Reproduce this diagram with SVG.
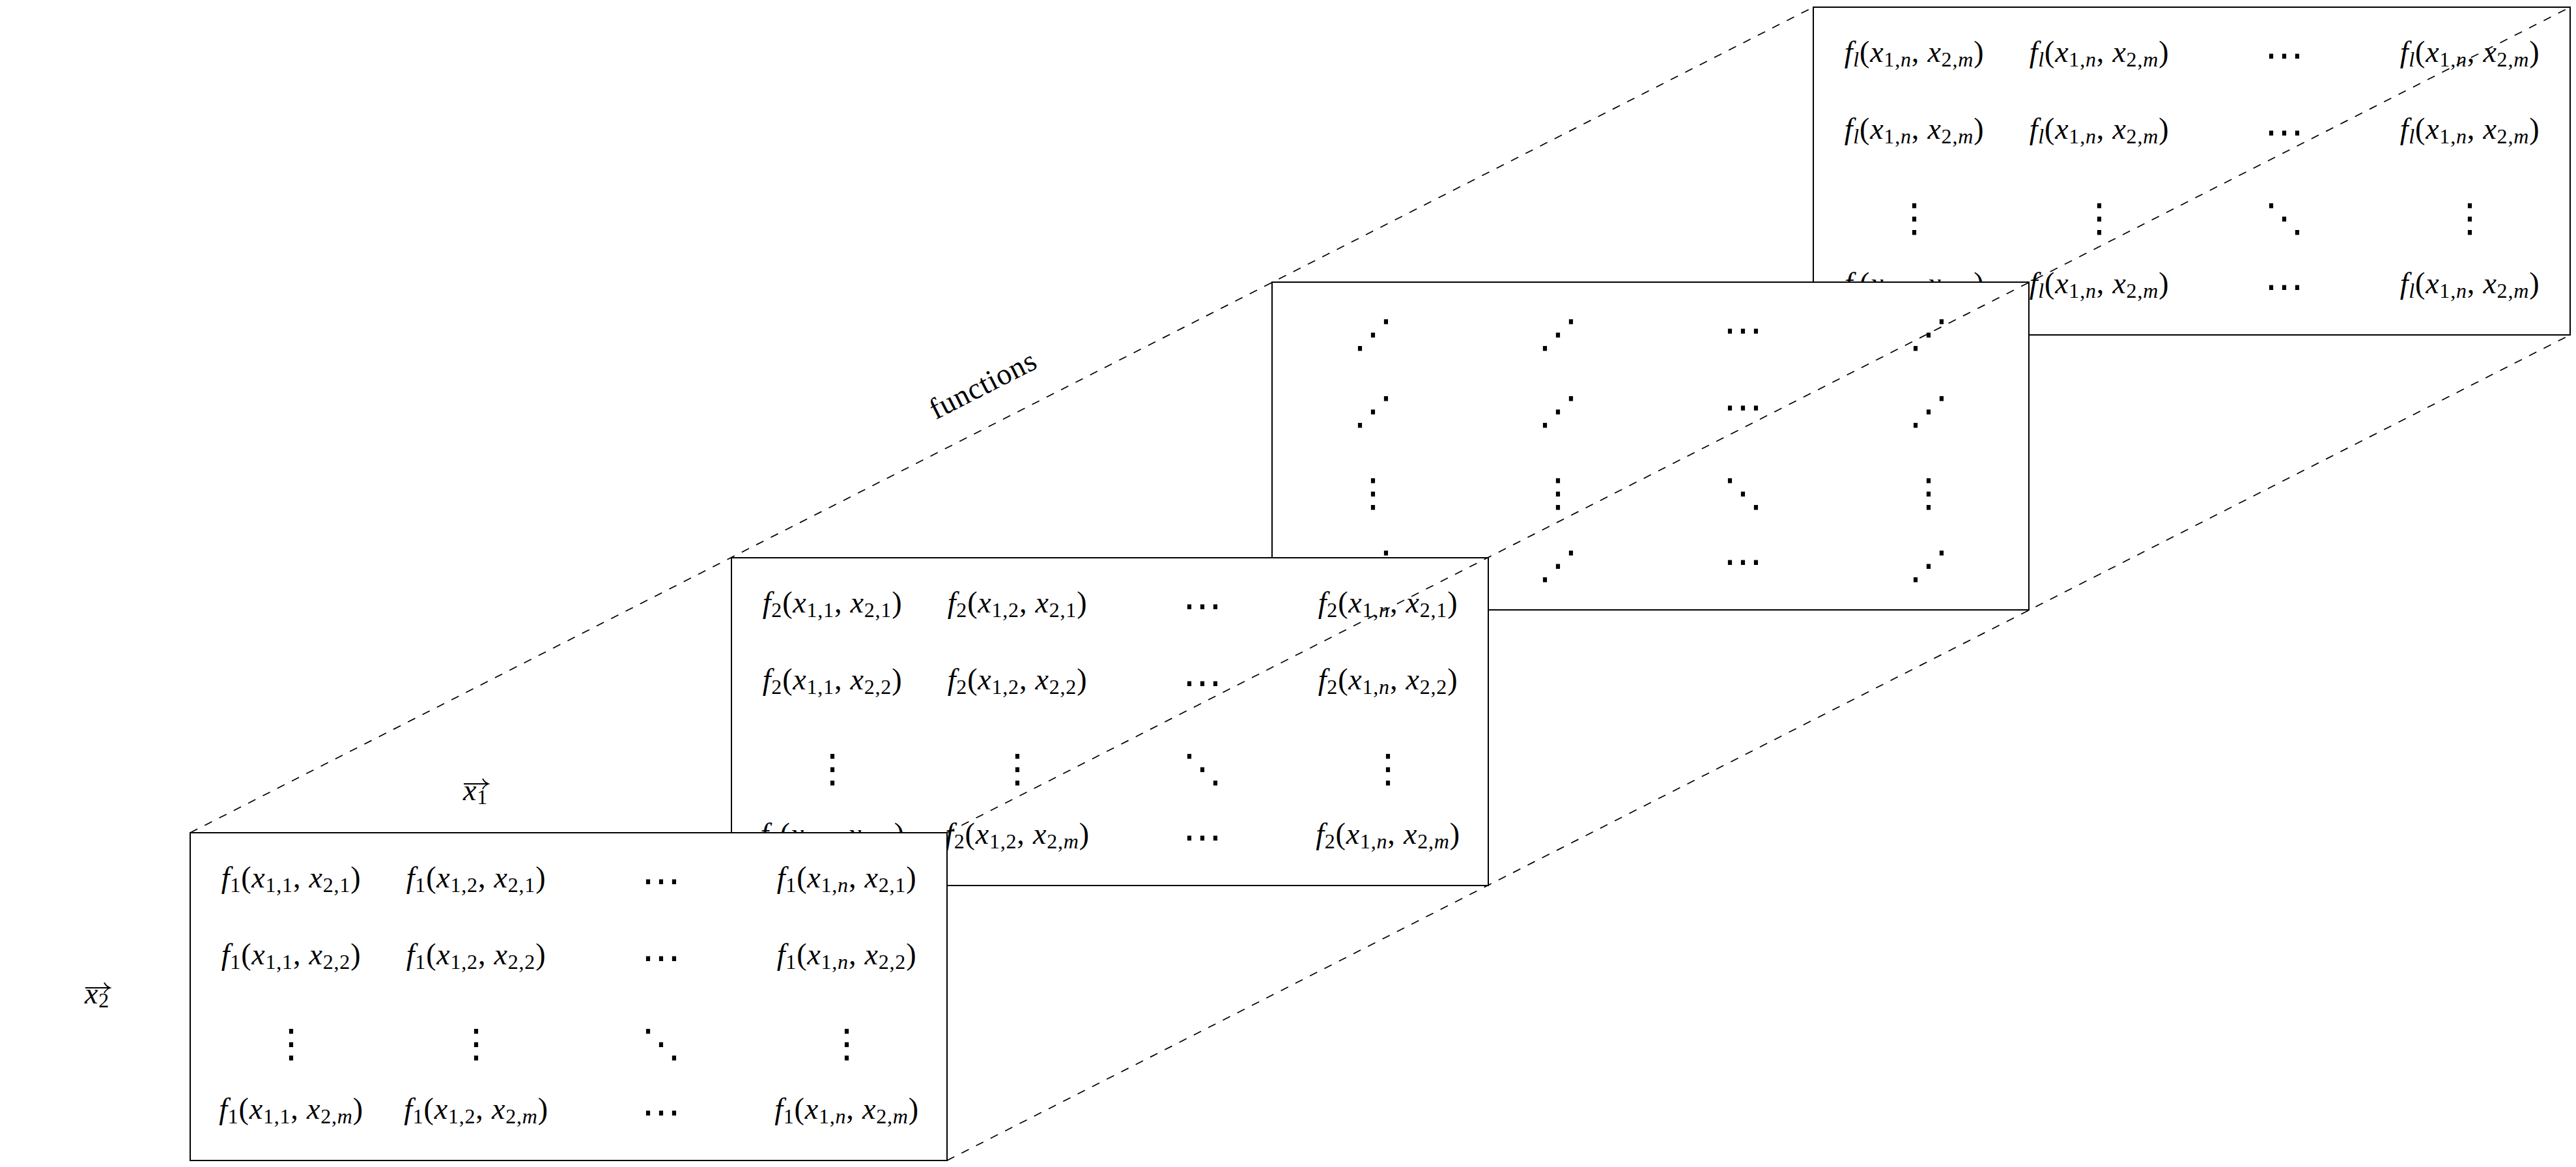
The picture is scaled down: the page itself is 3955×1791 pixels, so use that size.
<svg xmlns="http://www.w3.org/2000/svg" width="3955" height="1791" viewBox="0 0 3955 1791">
<style>
.box{fill:#fff;stroke:#000;stroke-width:2}
.t{font-family:"Liberation Serif",serif;font-size:46px;text-anchor:middle;fill:#000;letter-spacing:0.8px}
.i{font-style:italic}
.s{font-size:32px}
.d{font-family:"DejaVu Sans",sans-serif;font-size:60px;text-anchor:middle;fill:#000}
.dash{fill:none;stroke:#000;stroke-width:1.7;stroke-dasharray:12.5 12.5}
.arr{fill:none;stroke:#000;stroke-width:1.8}
</style>
<rect width="3955" height="1791" fill="#fff"/>

<g id="layer-fl" transform="translate(2784,11)">
<rect class="box" width="1162" height="503"/>
<text class="t" x="155" y="84"><tspan class="i">f</tspan><tspan class="s i" dy="7">l</tspan><tspan dy="-7">(</tspan><tspan class="i">x</tspan><tspan class="s" dy="7">1,<tspan class="i">n</tspan></tspan><tspan dy="-7">, </tspan><tspan class="i">x</tspan><tspan class="s" dy="7">2,<tspan class="i">m</tspan></tspan><tspan dy="-7">)</tspan></text>
<text class="t" x="439" y="84"><tspan class="i">f</tspan><tspan class="s i" dy="7">l</tspan><tspan dy="-7">(</tspan><tspan class="i">x</tspan><tspan class="s" dy="7">1,<tspan class="i">n</tspan></tspan><tspan dy="-7">, </tspan><tspan class="i">x</tspan><tspan class="s" dy="7">2,<tspan class="i">m</tspan></tspan><tspan dy="-7">)</tspan></text>
<text class="d" x="723" y="94">⋯</text>
<text class="t" x="1008" y="84"><tspan class="i">f</tspan><tspan class="s i" dy="7">l</tspan><tspan dy="-7">(</tspan><tspan class="i">x</tspan><tspan class="s" dy="7">1,<tspan class="i">n</tspan></tspan><tspan dy="-7">, </tspan><tspan class="i">x</tspan><tspan class="s" dy="7">2,<tspan class="i">m</tspan></tspan><tspan dy="-7">)</tspan></text>
<text class="t" x="155" y="202"><tspan class="i">f</tspan><tspan class="s i" dy="7">l</tspan><tspan dy="-7">(</tspan><tspan class="i">x</tspan><tspan class="s" dy="7">1,<tspan class="i">n</tspan></tspan><tspan dy="-7">, </tspan><tspan class="i">x</tspan><tspan class="s" dy="7">2,<tspan class="i">m</tspan></tspan><tspan dy="-7">)</tspan></text>
<text class="t" x="439" y="202"><tspan class="i">f</tspan><tspan class="s i" dy="7">l</tspan><tspan dy="-7">(</tspan><tspan class="i">x</tspan><tspan class="s" dy="7">1,<tspan class="i">n</tspan></tspan><tspan dy="-7">, </tspan><tspan class="i">x</tspan><tspan class="s" dy="7">2,<tspan class="i">m</tspan></tspan><tspan dy="-7">)</tspan></text>
<text class="d" x="723" y="212">⋯</text>
<text class="t" x="1008" y="202"><tspan class="i">f</tspan><tspan class="s i" dy="7">l</tspan><tspan dy="-7">(</tspan><tspan class="i">x</tspan><tspan class="s" dy="7">1,<tspan class="i">n</tspan></tspan><tspan dy="-7">, </tspan><tspan class="i">x</tspan><tspan class="s" dy="7">2,<tspan class="i">m</tspan></tspan><tspan dy="-7">)</tspan></text>
<text class="d" x="155" y="344">⋮</text>
<text class="d" x="439" y="344">⋮</text>
<text class="d" x="723" y="344">⋱</text>
<text class="d" x="1008" y="344">⋮</text>
<text class="t" x="155" y="439"><tspan class="i">f</tspan><tspan class="s i" dy="7">l</tspan><tspan dy="-7">(</tspan><tspan class="i">x</tspan><tspan class="s" dy="7">1,<tspan class="i">n</tspan></tspan><tspan dy="-7">, </tspan><tspan class="i">x</tspan><tspan class="s" dy="7">2,<tspan class="i">m</tspan></tspan><tspan dy="-7">)</tspan></text>
<text class="t" x="439" y="439"><tspan class="i">f</tspan><tspan class="s i" dy="7">l</tspan><tspan dy="-7">(</tspan><tspan class="i">x</tspan><tspan class="s" dy="7">1,<tspan class="i">n</tspan></tspan><tspan dy="-7">, </tspan><tspan class="i">x</tspan><tspan class="s" dy="7">2,<tspan class="i">m</tspan></tspan><tspan dy="-7">)</tspan></text>
<text class="d" x="723" y="449">⋯</text>
<text class="t" x="1008" y="439"><tspan class="i">f</tspan><tspan class="s i" dy="7">l</tspan><tspan dy="-7">(</tspan><tspan class="i">x</tspan><tspan class="s" dy="7">1,<tspan class="i">n</tspan></tspan><tspan dy="-7">, </tspan><tspan class="i">x</tspan><tspan class="s" dy="7">2,<tspan class="i">m</tspan></tspan><tspan dy="-7">)</tspan></text>
</g>

<g id="layer-dots" transform="translate(1953,433)">
<rect class="box" width="1162" height="503"/>
<text class="d" x="155" y="100">⋰</text>
<text class="d" x="439" y="100">⋰</text>
<text class="d" x="723" y="94">⋯</text>
<text class="d" x="1008" y="100">⋰</text>
<text class="d" x="155" y="218">⋰</text>
<text class="d" x="439" y="218">⋰</text>
<text class="d" x="723" y="212">⋯</text>
<text class="d" x="1008" y="218">⋰</text>
<text class="d" x="155" y="344">⋮</text>
<text class="d" x="439" y="344">⋮</text>
<text class="d" x="723" y="344">⋱</text>
<text class="d" x="1008" y="344">⋮</text>
<text class="d" x="155" y="455">⋰</text>
<text class="d" x="439" y="455">⋰</text>
<text class="d" x="723" y="449">⋯</text>
<text class="d" x="1008" y="455">⋰</text>
</g>

<g id="layer-f2" transform="translate(1123,856)">
<rect class="box" width="1162" height="503"/>
<text class="t" x="155" y="84"><tspan class="i">f</tspan><tspan class="s" dy="7">2</tspan><tspan dy="-7">(</tspan><tspan class="i">x</tspan><tspan class="s" dy="7">1,1</tspan><tspan dy="-7">, </tspan><tspan class="i">x</tspan><tspan class="s" dy="7">2,1</tspan><tspan dy="-7">)</tspan></text>
<text class="t" x="439" y="84"><tspan class="i">f</tspan><tspan class="s" dy="7">2</tspan><tspan dy="-7">(</tspan><tspan class="i">x</tspan><tspan class="s" dy="7">1,2</tspan><tspan dy="-7">, </tspan><tspan class="i">x</tspan><tspan class="s" dy="7">2,1</tspan><tspan dy="-7">)</tspan></text>
<text class="d" x="723" y="94">⋯</text>
<text class="t" x="1008" y="84"><tspan class="i">f</tspan><tspan class="s" dy="7">2</tspan><tspan dy="-7">(</tspan><tspan class="i">x</tspan><tspan class="s" dy="7">1,<tspan class="i">n</tspan></tspan><tspan dy="-7">, </tspan><tspan class="i">x</tspan><tspan class="s" dy="7">2,1</tspan><tspan dy="-7">)</tspan></text>
<text class="t" x="155" y="202"><tspan class="i">f</tspan><tspan class="s" dy="7">2</tspan><tspan dy="-7">(</tspan><tspan class="i">x</tspan><tspan class="s" dy="7">1,1</tspan><tspan dy="-7">, </tspan><tspan class="i">x</tspan><tspan class="s" dy="7">2,2</tspan><tspan dy="-7">)</tspan></text>
<text class="t" x="439" y="202"><tspan class="i">f</tspan><tspan class="s" dy="7">2</tspan><tspan dy="-7">(</tspan><tspan class="i">x</tspan><tspan class="s" dy="7">1,2</tspan><tspan dy="-7">, </tspan><tspan class="i">x</tspan><tspan class="s" dy="7">2,2</tspan><tspan dy="-7">)</tspan></text>
<text class="d" x="723" y="212">⋯</text>
<text class="t" x="1008" y="202"><tspan class="i">f</tspan><tspan class="s" dy="7">2</tspan><tspan dy="-7">(</tspan><tspan class="i">x</tspan><tspan class="s" dy="7">1,<tspan class="i">n</tspan></tspan><tspan dy="-7">, </tspan><tspan class="i">x</tspan><tspan class="s" dy="7">2,2</tspan><tspan dy="-7">)</tspan></text>
<text class="d" x="155" y="344">⋮</text>
<text class="d" x="439" y="344">⋮</text>
<text class="d" x="723" y="344">⋱</text>
<text class="d" x="1008" y="344">⋮</text>
<text class="t" x="155" y="439"><tspan class="i">f</tspan><tspan class="s" dy="7">2</tspan><tspan dy="-7">(</tspan><tspan class="i">x</tspan><tspan class="s" dy="7">1,1</tspan><tspan dy="-7">, </tspan><tspan class="i">x</tspan><tspan class="s" dy="7">2,<tspan class="i">m</tspan></tspan><tspan dy="-7">)</tspan></text>
<text class="t" x="439" y="439"><tspan class="i">f</tspan><tspan class="s" dy="7">2</tspan><tspan dy="-7">(</tspan><tspan class="i">x</tspan><tspan class="s" dy="7">1,2</tspan><tspan dy="-7">, </tspan><tspan class="i">x</tspan><tspan class="s" dy="7">2,<tspan class="i">m</tspan></tspan><tspan dy="-7">)</tspan></text>
<text class="d" x="723" y="449">⋯</text>
<text class="t" x="1008" y="439"><tspan class="i">f</tspan><tspan class="s" dy="7">2</tspan><tspan dy="-7">(</tspan><tspan class="i">x</tspan><tspan class="s" dy="7">1,<tspan class="i">n</tspan></tspan><tspan dy="-7">, </tspan><tspan class="i">x</tspan><tspan class="s" dy="7">2,<tspan class="i">m</tspan></tspan><tspan dy="-7">)</tspan></text>
</g>

<g id="layer-f1" transform="translate(292,1278)">
<rect class="box" width="1162" height="503"/>
<text class="t" x="155" y="84"><tspan class="i">f</tspan><tspan class="s" dy="7">1</tspan><tspan dy="-7">(</tspan><tspan class="i">x</tspan><tspan class="s" dy="7">1,1</tspan><tspan dy="-7">, </tspan><tspan class="i">x</tspan><tspan class="s" dy="7">2,1</tspan><tspan dy="-7">)</tspan></text>
<text class="t" x="439" y="84"><tspan class="i">f</tspan><tspan class="s" dy="7">1</tspan><tspan dy="-7">(</tspan><tspan class="i">x</tspan><tspan class="s" dy="7">1,2</tspan><tspan dy="-7">, </tspan><tspan class="i">x</tspan><tspan class="s" dy="7">2,1</tspan><tspan dy="-7">)</tspan></text>
<text class="d" x="723" y="94">⋯</text>
<text class="t" x="1008" y="84"><tspan class="i">f</tspan><tspan class="s" dy="7">1</tspan><tspan dy="-7">(</tspan><tspan class="i">x</tspan><tspan class="s" dy="7">1,<tspan class="i">n</tspan></tspan><tspan dy="-7">, </tspan><tspan class="i">x</tspan><tspan class="s" dy="7">2,1</tspan><tspan dy="-7">)</tspan></text>
<text class="t" x="155" y="202"><tspan class="i">f</tspan><tspan class="s" dy="7">1</tspan><tspan dy="-7">(</tspan><tspan class="i">x</tspan><tspan class="s" dy="7">1,1</tspan><tspan dy="-7">, </tspan><tspan class="i">x</tspan><tspan class="s" dy="7">2,2</tspan><tspan dy="-7">)</tspan></text>
<text class="t" x="439" y="202"><tspan class="i">f</tspan><tspan class="s" dy="7">1</tspan><tspan dy="-7">(</tspan><tspan class="i">x</tspan><tspan class="s" dy="7">1,2</tspan><tspan dy="-7">, </tspan><tspan class="i">x</tspan><tspan class="s" dy="7">2,2</tspan><tspan dy="-7">)</tspan></text>
<text class="d" x="723" y="212">⋯</text>
<text class="t" x="1008" y="202"><tspan class="i">f</tspan><tspan class="s" dy="7">1</tspan><tspan dy="-7">(</tspan><tspan class="i">x</tspan><tspan class="s" dy="7">1,<tspan class="i">n</tspan></tspan><tspan dy="-7">, </tspan><tspan class="i">x</tspan><tspan class="s" dy="7">2,2</tspan><tspan dy="-7">)</tspan></text>
<text class="d" x="155" y="344">⋮</text>
<text class="d" x="439" y="344">⋮</text>
<text class="d" x="723" y="344">⋱</text>
<text class="d" x="1008" y="344">⋮</text>
<text class="t" x="155" y="439"><tspan class="i">f</tspan><tspan class="s" dy="7">1</tspan><tspan dy="-7">(</tspan><tspan class="i">x</tspan><tspan class="s" dy="7">1,1</tspan><tspan dy="-7">, </tspan><tspan class="i">x</tspan><tspan class="s" dy="7">2,<tspan class="i">m</tspan></tspan><tspan dy="-7">)</tspan></text>
<text class="t" x="439" y="439"><tspan class="i">f</tspan><tspan class="s" dy="7">1</tspan><tspan dy="-7">(</tspan><tspan class="i">x</tspan><tspan class="s" dy="7">1,2</tspan><tspan dy="-7">, </tspan><tspan class="i">x</tspan><tspan class="s" dy="7">2,<tspan class="i">m</tspan></tspan><tspan dy="-7">)</tspan></text>
<text class="d" x="723" y="449">⋯</text>
<text class="t" x="1008" y="439"><tspan class="i">f</tspan><tspan class="s" dy="7">1</tspan><tspan dy="-7">(</tspan><tspan class="i">x</tspan><tspan class="s" dy="7">1,<tspan class="i">n</tspan></tspan><tspan dy="-7">, </tspan><tspan class="i">x</tspan><tspan class="s" dy="7">2,<tspan class="i">m</tspan></tspan><tspan dy="-7">)</tspan></text>
</g>

<g id="connectors">
<line class="dash" x1="292" y1="1278" x2="2784" y2="11"/>
<line class="dash" x1="1454" y1="1278" x2="3946" y2="11"/>
<line class="dash" x1="1454" y1="1781" x2="3946" y2="514"/>
</g>

<g id="label-functions">
<text class="t" x="1516" y="604" transform="rotate(-26.96 1516 604)">functions</text>
</g>

<g id="label-x1">
<text class="t" x="711" y="1228" style="text-anchor:start"><tspan class="i">x</tspan><tspan class="s" dy="6">1</tspan></text>
<path class="arr" d="M712,1203 H749 M741,1195 Q744,1201 750,1203 Q744,1205 741,1211"/>
</g>

<g id="label-x2">
<text class="t" x="130" y="1540" style="text-anchor:start"><tspan class="i">x</tspan><tspan class="s" dy="6">2</tspan></text>
<path class="arr" d="M131,1516 H168 M160,1508 Q163,1514 169,1516 Q163,1518 160,1524"/>
</g>
</svg>
